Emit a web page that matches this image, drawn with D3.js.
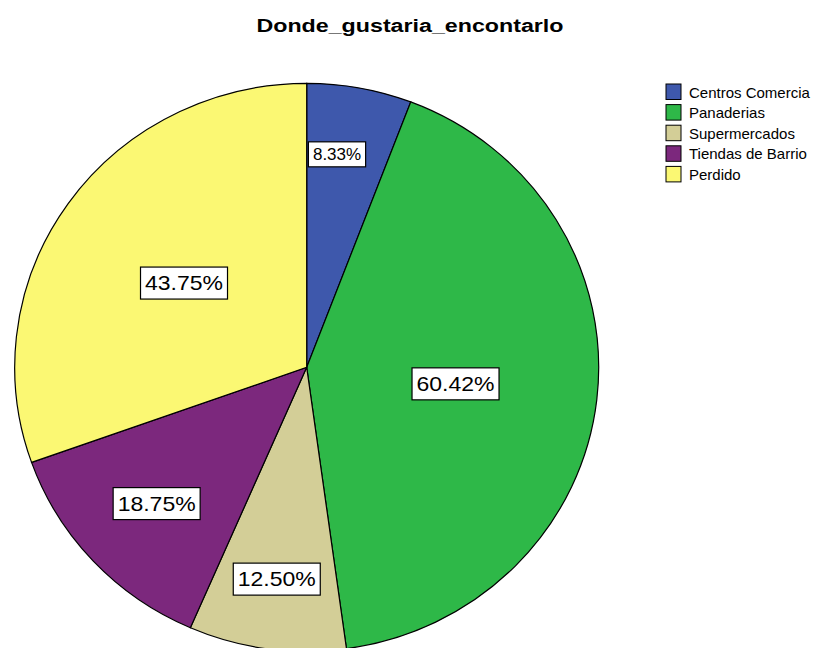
<!DOCTYPE html>
<html lang="es">
<head>
<meta charset="UTF-8">
<script src="https://cdn.jsdelivr.net/npm/d3@7/dist/d3.min.js"></script>
<title>Donde_gustaria_encontarlo</title>
<style>
  body { margin: 0; background: #fff; }
  text { font-family: "Liberation Sans", Arial, sans-serif; }
</style>
</head>
<body>
<script>
var width = 818,
    height = 648;

// datos (frecuencias, 48 casos validos)
var categories = ["Centros Comercia", "Panaderias", "Supermercados", "Tiendas de Barrio", "Perdido"];
var counts = [4, 29, 6, 9, 21];
var validTotal = 48;
var colors = ["#3e58ac", "#2eb848", "#d3ce97", "#7c287d", "#fbf873"];

var cx = 306.7, cy = 367.3, rx = 292, ry = 284;

var svg = d3.select("body").append("svg")
    .attr("width", width).attr("height", height);

svg.append("text")
    .attr("x", 410).attr("y", 32)
    .attr("text-anchor", "middle")
    .attr("font-size", "18px")
    .attr("font-weight", "bold")
    .attr("textLength", 307)
    .attr("lengthAdjust", "spacingAndGlyphs")
    .text("Donde_gustaria_encontarlo");

var pie = d3.pie().sort(null).value(function(d){ return d; });
var arcs = pie(counts);

var arc = d3.arc().innerRadius(0).outerRadius(rx);

// pie slightly squashed vertically like the original
var g = svg.append("g")
    .attr("transform", "translate(" + cx + "," + cy + ") scale(1," + (ry / rx) + ")");

g.selectAll("path").data(arcs)
    .enter()
    .append("path")
    .attr("d", arc)
    .attr("fill", function(d, i){ return colors[i]; })
    .attr("stroke", "#000")
    .attr("stroke-width", 1.2)
    .attr("vector-effect", "non-scaling-stroke");

// label radius depends on the slice size (small slices push labels outward)
var labelR = d3.scaleLinear()
    .domain([20, 30, 47, 110])
    .range([0.763, 0.757, 0.703, 0.513])
    .clamp(true);

var fmt = d3.format(".2f");

var labels = svg.selectAll("g.lab").data(arcs)
    .enter()
    .append("g")
    .attr("class", "lab")
    .attr("transform", function(d){
        var deg = (d.endAngle - d.startAngle) * 180 / Math.PI;
        var r = rx * labelR(deg);
        var c = d3.arc().innerRadius(r).outerRadius(r).centroid(d);
        if (deg < 25) c[0] -= 10;
        return "translate(" + (cx + c[0]) + "," + (cy + c[1] * ry / rx) + ")";
    });

labels.each(function(d, i){
    var deg = (d.endAngle - d.startAngle) * 180 / Math.PI;
    var small = deg < 25;
    var fs = small ? 17 : 20;
    var sx = small ? 1 : 1.15;
    var gg = d3.select(this);
    var rect = gg.append("rect");
    var t = gg.append("text")
        .attr("text-anchor", "middle")
        .attr("dy", "0.36em")
        .attr("font-size", fs + "px")
        .attr("fill", "#000")
        .attr("transform", "scale(" + sx + ",1)")
        .text(fmt(counts[i] / validTotal * 100) + "%");
    var w = t.node().getComputedTextLength() * sx + 9;
    var h = small ? 25 : 32;
    rect.attr("x", -w / 2).attr("y", -h / 2)
        .attr("width", w).attr("height", h)
        .attr("fill", "#fff")
        .attr("stroke", "#000")
        .attr("stroke-width", 1.2);
});

var legend = svg.append("g").attr("transform", "translate(666,84)");
var item = legend.selectAll("g").data(categories)
    .enter()
    .append("g")
    .attr("transform", function(d, i){ return "translate(0," + (i * 20.6) + ")"; });

item.append("rect")
    .attr("width", 15).attr("height", 15.5)
    .attr("fill", function(d, i){ return colors[i]; })
    .attr("stroke", "#000")
    .attr("stroke-width", 1);

item.append("text")
    .attr("x", 23).attr("y", 13.5)
    .attr("font-size", "15px")
    .attr("fill", "#000")
    .text(function(d){ return d; });
</script>
</body>
</html>
